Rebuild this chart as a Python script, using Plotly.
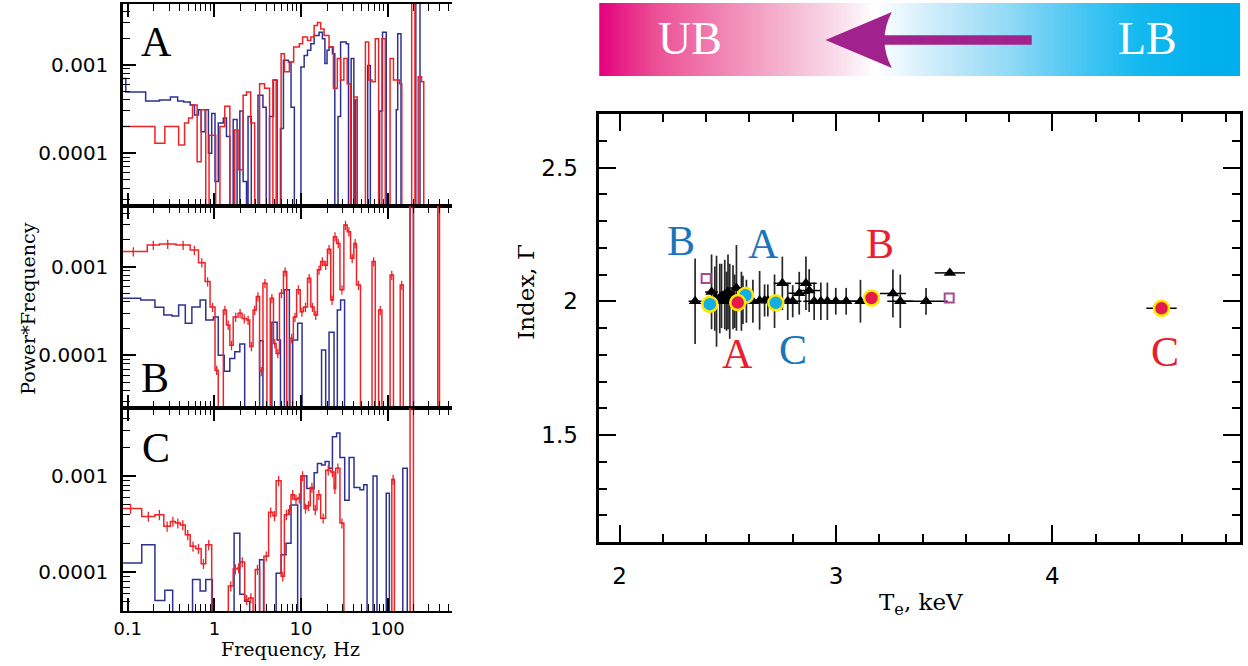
import math
import plotly.graph_objects as go

W, H = 1248, 666

# ---------------- power spectra: left bin edge [Hz] and Power*Frequency (0 = no power)
a_blue_f = [0.08, 0.095, 0.161, 0.232, 0.311, 0.377, 0.442, 0.526, 0.590, 0.656, 0.704, 0.782, 0.854, 0.932,
            1.018, 1.11, 1.27, 1.38, 1.51, 1.65, 1.83, 1.97, 2.15, 2.35, 2.45, 2.67, 3.19, 3.64, 3.97, 4.34,
            4.82, 5.31, 5.80, 6.28, 7.16, 7.68, 8.39, 10.0, 10.9, 11.9, 13.0, 14.2, 16.2, 17.7, 18.9, 20.0,
            21.1, 23.1, 24.6, 26.8, 28.7, 33.3, 35.4, 38.0, 40.8, 42.3, 44.6, 59.0, 63.3, 81.0, 87.5, 96.6,
            126, 131, 143, 212, 237]
a_blue_p = [7.0e-4, 4.9e-4, 3.9e-4, 4.0e-4, 4.3e-4, 3.9e-4, 3.8e-4, 3.5e-4, 2.7e-4, 3.1e-4, 1.75e-4, 3.1e-4,
            1.0e-4, 2.8e-4, 4.8e-5, 2.2e-4, 2.5e-4, 1.54e-4, 0, 2.4e-4, 0, 3.0e-4, 4.8e-5, 0, 2.6e-4, 0,
            4.5e-4, 3.3e-4, 0, 2.6e-4, 6.7e-4, 0, 1.9e-4, 1.12e-3, 1.07e-3, 3.3e-4, 0, 9.4e-4, 1.27e-3,
            1.45e-3, 1.72e-3, 2.14e-3, 2.33e-3, 1.96e-3, 1.03e-3, 1.45e-3, 1.58e-3, 1.33e-3, 0, 2.6e-4,
            1.8e-3, 1.72e-3, 0, 1.17e-3, 0, 4.0e-4, 0, 9.8e-4, 0, 3.0e-4, 2.33e-3, 0, 3.1e-4, 2.23e-3, 0,
            2e-2, 0]
a_red_f = [0.08, 0.206, 0.268, 0.387, 0.453, 0.504, 0.560, 0.633, 0.704, 0.796, 0.869, 1.036, 1.16, 1.32,
           1.51, 1.72, 1.88, 2.15, 2.35, 2.63, 2.92, 3.33, 3.80, 4.34, 4.74, 5.17, 5.90, 6.44, 7.35, 8.24,
           9.57, 10.45, 11.9, 13.0, 14.2, 15.5, 16.9, 18.5, 21.1, 23.7, 26.3, 28.7, 31.3, 34.2, 37.4, 40.8,
           44.6, 55.5, 60.6, 66.2, 72.2, 78.9, 86.1, 94.0, 107, 117, 137, 146, 190, 207, 226, 247, 262]
a_red_p = [2.0e-4, 1.3e-4, 2.0e-4, 1.24e-4, 2.2e-4, 2.5e-4, 3.5e-4, 8.0e-5, 3.1e-4, 0, 1.6e-4, 0, 2.0e-4,
           3.4e-4, 0, 1.83e-4, 6.5e-5, 4.5e-4, 4.9e-4, 2.2e-4, 0, 6.1e-4, 5.4e-4, 0, 6.7e-4, 0, 1.33e-3,
           8.3e-4, 1.07e-3, 1.58e-3, 1.72e-3, 2.05e-3, 1.88e-3, 2.05e-3, 2.77e-3, 3.0e-3, 2.53e-3, 2.14e-3,
           1.58e-3, 5.4e-4, 1.17e-3, 6.7e-4, 1.17e-3, 6.1e-4, 0, 4.3e-4, 0, 1.8e-3, 6.7e-4, 6.4e-4, 1.96e-3,
           0, 1.96e-3, 0, 1.17e-3, 6.7e-4, 6.1e-4, 0, 2e-2, 0, 7.3e-4, 6.4e-4, 0]

b_blue_f = [0.08, 0.141, 0.206, 0.261, 0.325, 0.387, 0.462, 0.550, 0.685, 0.796, 0.974, 1.11, 1.30, 1.51,
            1.72, 1.97, 2.24, 3.33, 3.64, 4.62, 5.31, 5.80, 6.44, 7.35, 8.03, 9.16, 10.3, 17.3, 19.3, 21.1,
            24.1, 26.3, 28.7, 31.9, 182, 199]
b_blue_p = [4.4e-4, 4.2e-4, 3.48e-4, 2.85e-4, 2.78e-4, 3.7e-4, 2.3e-4, 3.5e-4, 4.2e-4, 2.5e-4, 2.7e-4,
            1.0e-4, 6.6e-5, 9.2e-5, 1.1e-4, 1.34e-4, 0, 1.46e-4, 0, 2.36e-4, 1.49e-4, 0, 5.5e-4, 0, 1.49e-4,
            2.3e-4, 0, 1.15e-4, 0, 1.82e-4, 0, 3.24e-4, 4.2e-4, 0, 2e-2, 0]
b_red_f = [0.08, 0.168, 0.232, 0.361, 0.526, 0.656, 0.782, 0.892, 1.018, 1.11, 1.27, 1.38, 1.51, 1.65,
           1.88, 2.09, 2.35, 2.56, 2.80, 3.05, 3.33, 3.64, 4.05, 4.42, 4.82, 5.17, 5.65, 6.28, 6.85, 7.48,
           8.17, 8.92, 9.82, 10.7, 11.9, 13.0, 14.2, 15.5, 16.9, 18.5, 20.2, 22.1, 23.7, 25.8, 28.2, 31.3,
           34.2, 37.4, 40.8, 43.8, 48.7, 66.2, 72.2, 78.9, 86.1, 107, 117, 140, 152, 182, 199, 380, 398]
b_red_p = [1.48e-3, 1.75e-3, 1.8e-3, 1.75e-3, 1.54e-3, 1.11e-3, 6.8e-4, 3.5e-4, 6.8e-5, 0, 3.24e-4,
           2.2e-4, 1.3e-4, 2.7e-4, 2.98e-4, 2.6e-4, 2.5e-4, 1.26e-4, 3.24e-4, 4.6e-4, 6.6e-5, 6.5e-4, 0,
           4.4e-4, 1.36e-4, 1.05e-4, 5.0e-4, 8.8e-4, 0, 1.56e-4, 2.7e-4, 5.5e-4, 3.1e-4, 3.5e-4, 7.4e-4,
           3.5e-4, 2.85e-4, 9.2e-4, 1.14e-3, 1.04e-3, 1.57e-3, 4.2e-4, 2.18e-3, 1.83e-3, 5.5e-4, 2.95e-3,
           2.48e-3, 1.24e-3, 1.83e-3, 6.2e-4, 0, 1.14e-3, 0, 3.24e-4, 0, 8.05e-4, 0, 6.2e-4, 0, 2e-2, 0,
           2e-2, 0]

c_blue_f = [0.08, 0.145, 0.206, 0.268, 0.330, 0.560, 0.685, 0.796, 0.948, 1.69, 1.97, 2.24, 2.56, 3.33,
            3.70, 5.17, 5.90, 6.73, 7.68, 9.16, 10.0, 11.7, 14.2, 15.5, 17.3, 19.0, 21.1, 23.1, 25.8, 28.2,
            32.0, 36.0, 41.0, 48.0, 53.0, 58.0, 68.0, 75.5, 96.6, 105, 150, 169]
c_blue_p = [1.25e-4, 1.93e-4, 5.1e-5, 6.5e-5, 0, 8.4e-5, 6.4e-5, 8.4e-5, 0, 2.55e-4, 5.9e-5, 5.0e-5, 0,
            1.35e-4, 0, 9.8e-5, 1.52e-4, 2.0e-4, 5.0e-4, 0, 1.0e-3, 7.4e-4, 1.08e-3, 1.35e-3, 1.3e-3,
            1.41e-3, 1.2e-3, 2.55e-3, 2.8e-3, 1.56e-3, 5.6e-4, 1.56e-3, 7.6e-4, 7.2e-4, 8.1e-4, 0, 1.0e-3,
            0, 6.6e-4, 0, 1.2e-3, 0]
c_red_f = [0.08, 0.145, 0.206, 0.261, 0.311, 0.355, 0.404, 0.462, 0.526, 0.611, 0.704, 0.796, 0.932, 1.45,
           1.65, 1.85, 1.97, 2.24, 2.49, 2.80, 2.97, 3.33, 3.74, 4.23, 4.74, 5.17, 5.90, 6.44, 7.16, 7.68,
           8.39, 9.16, 10.0, 10.9, 11.7, 12.8, 14.0, 15.3, 16.9, 19.3, 22.1, 24.1, 25.2, 28.2, 31.3, 112,
           120, 182, 199]
c_red_p = [4.6e-4, 3.8e-4, 3.95e-4, 3.0e-4, 3.37e-4, 3.24e-4, 3.1e-4, 2.45e-4, 1.86e-4, 1.76e-4, 1.23e-4,
           1.93e-4, 0, 7.2e-5, 1.08e-4, 1.11e-4, 1.28e-4, 5.2e-5, 5.4e-5, 0, 1.07e-4, 0, 1.47e-4, 4.2e-4,
           3.87e-4, 8.9e-4, 9.1e-5, 3.95e-4, 4.45e-4, 6.4e-4, 5.7e-4, 5.9e-4, 1.0e-3, 4.6e-4, 4.9e-4,
           7.6e-4, 4.45e-4, 6.4e-4, 3.65e-4, 1.15e-3, 1.1e-3, 7.4e-4, 1.2e-3, 3.24e-4, 0, 9.2e-4, 0, 2e-2, 0]

F_END = 500.0          # upper edge of the last frequency bin
FLOOR = 1e-8           # empty bins are drawn down past the bottom of the log axis

panel_names = ["A", "B", "C"]
freq_ticks = [0.1, 1, 10, 100]
freq_tick_text = ["0.1", "1", "10", "100"]
pow_ticks = [1e-4, 1e-3]
pow_tick_text = ["0.0001", "0.001"]

# ---------------- spectral index vs electron temperature
tri_te = [2.349, 2.425, 2.440, 2.448, 2.463, 2.471, 2.486, 2.494, 2.501, 2.509, 2.524, 2.532, 2.540, 2.563,
          2.570, 2.586, 2.616, 2.647, 2.670, 2.685, 2.716, 2.752, 2.777, 2.800, 2.830, 2.861, 2.876, 2.899,
          2.930, 2.960, 2.999, 3.047, 3.113, 3.263, 3.297, 3.416, 3.526]
tri_gam = [2.000, 2.035, 2.010, 2.000, 2.010, 2.020, 2.025, 2.000, 2.035, 2.000, 2.015, 2.000, 2.050, 2.000,
           2.005, 2.000, 2.000, 2.003, 2.003, 2.003, 2.000, 2.067, 2.000, 2.000, 2.030, 2.067, 2.040, 2.000,
           2.000, 2.000, 2.000, 2.000, 2.000, 2.029, 2.000, 2.000, 2.106]
tri_gam_err = [0.16, 0.14, 0.12, 0.17, 0.13, 0.12, 0.13, 0.11, 0.14, 0.14, 0.12, 0.10, 0.16, 0.11, 0.09,
               0.08, 0.08, 0.11, 0.06, 0.06, 0.10, 0.10, 0.07, 0.06, 0.08, 0.10, 0.08, 0.07, 0.07, 0.07,
               0.05, 0.05, 0.08, 0.09, 0.10, 0.05, 0.0]
tri_te_err = [0.03, 0.03, 0.03, 0.03, 0.03, 0.03, 0.03, 0.03, 0.03, 0.03, 0.03, 0.03, 0.03, 0.03, 0.03,
              0.03, 0.04, 0.04, 0.04, 0.04, 0.04, 0.04, 0.04, 0.04, 0.05, 0.05, 0.05, 0.05, 0.05, 0.05,
              0.05, 0.05, 0.06, 0.06, 0.06, 0.10, 0.07]

sq_te = [2.400, 3.523]
sq_gam = [2.085, 2.012]

red_te = [2.546, 3.164, 4.504]
red_gam = [1.995, 2.012, 1.974]
red_te_err = [0.0, 0.0, 0.07]
red_names = ["A", "B", "C"]
red_label_te = [2.545, 3.205, 4.518]
red_label_gam = [1.802, 2.213, 1.810]

blue_te = [2.417, 2.582, 2.722]
blue_gam = [1.989, 2.022, 1.994]
blue_names = ["B", "A", "C"]
blue_label_te = [2.283, 2.664, 2.802]
blue_label_gam = [2.224, 2.213, 1.817]

RED = "#ee2328"
NAVY = "#2e3192"
TXT_RED = "#e8202e"
TXT_BLUE = "#1b75bc"
CYAN = "#14ade6"
CRIMSON = "#e5194c"
YELLOW = "#ffe800"
PURPLE = "#a2228d"

SERIF = "Liberation Serif"
TITLE_FONT = "DejaVu Serif"
NUM_FONT = "DejaVu Sans"


def steps(f, p):
    xs, ys = [], []
    for fl, v in zip(f, p):
        xs.append(fl)
        ys.append(v if v > 0 else FLOOR)
    xs.append(F_END)
    ys.append(ys[-1])
    return xs, ys


def bin_centres(f, p):
    edges = list(f) + [F_END]
    cx, cy = [], []
    for i, v in enumerate(p):
        if 0 < v < 0.01:
            cx.append(math.sqrt(edges[i] * edges[i + 1]))
            cy.append(v)
    return cx, cy


fig = go.Figure()

panels = [
    ("", a_blue_f, a_blue_p, a_red_f, a_red_p, False),
    ("2", b_blue_f, b_blue_p, b_red_f, b_red_p, True),
    ("3", c_blue_f, c_blue_p, c_red_f, c_red_p, True),
]
for sfx, bf, bp, rf, rp, with_err in panels:
    xa, ya = "x" + sfx, "y" + sfx
    x, y = steps(bf, bp)
    fig.add_trace(go.Scatter(x=x, y=y, mode="lines", line=dict(color=NAVY, width=1.5, shape="hv"),
                             xaxis=xa, yaxis=ya, hoverinfo="skip"))
    x, y = steps(rf, rp)
    fig.add_trace(go.Scatter(x=x, y=y, mode="lines", line=dict(color=RED, width=1.5, shape="hv"),
                             xaxis=xa, yaxis=ya, hoverinfo="skip"))
    if with_err:
        cx, cy = bin_centres(rf, rp)
        fig.add_trace(go.Scatter(x=cx, y=cy, mode="markers", marker=dict(size=2, color=RED),
                                 error_y=dict(type="percent", value=12, color=RED, thickness=1.3, width=0),
                                 xaxis=xa, yaxis=ya, hoverinfo="skip"))

# --- right panel: error bars, triangles, squares and highlighted states
fig.add_trace(go.Scatter(
    x=tri_te, y=tri_gam, mode="markers",
    marker=dict(symbol="triangle-up", size=11, color="black"),
    error_y=dict(type="data", array=tri_gam_err, color="rgba(15,15,15,0.9)", thickness=1.7, width=0),
    error_x=dict(type="data", array=tri_te_err, color="black", thickness=1.5, width=0),
    xaxis="x4", yaxis="y4", hoverinfo="skip"))
fig.add_trace(go.Scatter(
    x=sq_te, y=sq_gam, mode="markers",
    marker=dict(symbol="square-open", size=9, color="#a54a90", line=dict(width=2)),
    xaxis="x4", yaxis="y4", hoverinfo="skip"))
fig.add_trace(go.Scatter(
    x=blue_te, y=blue_gam, mode="markers",
    marker=dict(symbol="circle", size=15, color=CYAN, line=dict(color=YELLOW, width=2.5)),
    xaxis="x4", yaxis="y4", hoverinfo="skip"))
fig.add_trace(go.Scatter(
    x=red_te, y=red_gam, mode="markers",
    marker=dict(symbol="circle", size=15, color=CRIMSON, line=dict(color=YELLOW, width=2.5)),
    error_x=dict(type="data", array=red_te_err, color="black", thickness=1.5, width=0),
    xaxis="x4", yaxis="y4", hoverinfo="skip"))

# --- gradient banner
n_col = 200
grad_x = [594 + (1240 - 594) * i / (n_col - 1) for i in range(n_col)]
fig.add_trace(go.Heatmap(
    x=grad_x, y=[3, 76], z=[list(range(n_col)), list(range(n_col))],
    colorscale=[[0, "#e4007c"], [0.09, "#ec5196"], [0.29, "#f5b5d0"], [0.38, "#fbe1ed"], [0.43, "#ffffff"],
                [0.51, "#d4effb"], [0.64, "#91d9f6"], [0.74, "#4fc8f3"], [0.84, "#15b9ef"],
                [0.94, "#02b1ec"], [1, "#00aeef"]],
    showscale=False, xaxis="x5", yaxis="y5", hoverinfo="skip"))

X_LEFT, X_RIGHT = 114, 446
left_x_range = [math.log10(0.1) - (118.7 - X_LEFT) / 87.3, math.log10(0.1) + (X_RIGHT - 118.7) / 87.3]

minor_x = [k * 10.0 ** e for e in range(-2, 3) for k in range(2, 10)]
minor_y = [k * 10.0 ** e for e in range(-6, -1) for k in range(2, 10)]

panel_px = [(4, 206), (206, 408), (408, 611)]
panel_yrange = [[-4.596, -2.315], [-4.594, -2.316], [-4.402, -2.294]]

layout = dict(
    width=W, height=H, margin=dict(l=0, r=0, t=0, b=0),
    paper_bgcolor="white", plot_bgcolor="rgba(0,0,0,0)", showlegend=False,
)

for i, sfx in enumerate(["", "2", "3"]):
    top, bot = panel_px[i]
    layout["xaxis" + sfx] = dict(
        type="log", range=left_x_range, domain=[X_LEFT / W, X_RIGHT / W], anchor="y" + sfx,
        showline=True, linecolor="black", linewidth=2, mirror="allticks",
        ticks="inside", ticklen=13, tickwidth=1.5, tickcolor="black",
        tickmode="array", tickvals=freq_ticks, ticktext=freq_tick_text,
        minor=dict(ticks="inside", ticklen=7, tickwidth=1.2, tickcolor="black", tickmode="array",
                   tickvals=minor_x, showgrid=False),
        showticklabels=(i == 2), tickfont=dict(family=NUM_FONT, size=18, color="black"),
        ticklabelstandoff=0, showgrid=False, zeroline=False,
    )
    layout["yaxis" + sfx] = dict(
        type="log", range=panel_yrange[i], domain=[1 - bot / H, 1 - top / H], anchor="x" + sfx,
        showline=True, linecolor="black", linewidth=2.5, mirror=False,
        ticks="inside", ticklen=13, tickwidth=1.5, tickcolor="black",
        tickmode="array", tickvals=pow_ticks, ticktext=pow_tick_text,
        minor=dict(ticks="inside", ticklen=7, tickwidth=1.2, tickcolor="black", tickmode="array",
                   tickvals=minor_y, showgrid=False),
        tickfont=dict(family=NUM_FONT, size=20, color="black"), ticklabelstandoff=8,
        showgrid=False, zeroline=False,
    )

layout["xaxis4"] = dict(
    range=[1.906, 4.867], domain=[594 / W, 1240 / W], anchor="y4",
    showline=True, linecolor="black", linewidth=2.5, mirror="allticks",
    ticks="inside", ticklen=17, tickwidth=2, tickcolor="black", tick0=0, dtick=1,
    minor=dict(ticks="inside", ticklen=8, tickwidth=1.5, tickcolor="black", dtick=0.2, showgrid=False),
    tickfont=dict(family=NUM_FONT, size=23, color="black"), ticklabelstandoff=12,
    showgrid=False, zeroline=False,
)
layout["yaxis4"] = dict(
    range=[1.1, 2.7], domain=[1 - 542 / H, 1 - 114 / H], anchor="x4",
    showline=True, linecolor="black", linewidth=2.5, mirror="allticks",
    ticks="inside", ticklen=17, tickwidth=2, tickcolor="black", tick0=0, dtick=0.5,
    minor=dict(ticks="inside", ticklen=8, tickwidth=1.5, tickcolor="black", dtick=0.1, showgrid=False),
    tickfont=dict(family=NUM_FONT, size=23, color="black"), ticklabelstandoff=14,
    showgrid=False, zeroline=False,
)
layout["xaxis5"] = dict(range=[594, 1240], domain=[594 / W, 1240 / W], anchor="y5", visible=False)
layout["yaxis5"] = dict(range=[76, 3], domain=[1 - 76 / H, 1 - 3 / H], anchor="x5", visible=False)

fig.update_layout(**layout)

# arrow on the banner
fig.add_shape(type="rect", xref="x5", yref="y5", x0=872, x1=1030, y0=35.3, y1=44.7,
              fillcolor=PURPLE, line=dict(width=0))
fig.add_shape(type="path", xref="x5", yref="y5", path="M 822,40 L 889,12 Q 874,40 889,68 Z",
              fillcolor=PURPLE, line=dict(width=0))


def label(text, x, y, xref, yref, family, size, color, angle=0):
    return dict(text=text, x=x, y=y, xref=xref, yref=yref, xanchor="center", yanchor="middle",
                showarrow=False, textangle=angle, font=dict(family=family, size=size, color=color))


ann = [label("UB", 685, 39, "x5", "y5", SERIF, 46, "white"),
       label("LB", 1147, 39, "x5", "y5", SERIF, 46, "white")]

panel_label_px = [(148, 42), (146, 378), (147, 448)]
for name, (lx, ly) in zip(panel_names, panel_label_px):
    ann.append(label(name, lx / W, 1 - ly / H, "paper", "paper", SERIF, 42, "black"))

for name, tx, ty in zip(blue_names, blue_label_te, blue_label_gam):
    ann.append(label(name, tx, ty, "x4", "y4", SERIF, 42, TXT_BLUE))
for name, tx, ty in zip(red_names, red_label_te, red_label_gam):
    ann.append(label(name, tx, ty, "x4", "y4", SERIF, 42, TXT_RED))

ann.append(label("Power*Frequency", 18 / W, 1 - 308 / H, "paper", "paper", TITLE_FONT, 19, "black", -90))
ann.append(label("Frequency, Hz", 283 / W, 1 - 649 / H, "paper", "paper", TITLE_FONT, 19, "black"))
ann.append(label("Index, Γ", 520 / W, 1 - 292 / H, "paper", "paper", TITLE_FONT, 23, "black", -90))
ann.append(label("T<sub>e</sub>, keV", 918 / W, 1 - 604 / H, "paper", "paper", TITLE_FONT, 23, "black"))

fig.update_layout(annotations=ann)

fig.write_html("out.html")
